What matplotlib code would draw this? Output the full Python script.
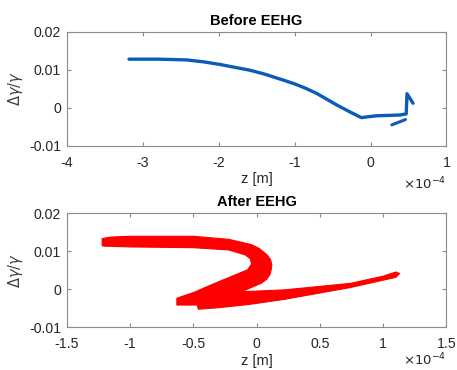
import matplotlib
matplotlib.use("Agg")
import matplotlib.pyplot as plt
from matplotlib.ticker import FixedLocator, FuncFormatter

plt.rcParams['font.family'] = ['Liberation Sans', 'DejaVu Sans']

SCALE = 1e-4  # z values below are in units of 1e-4 m

# ---- Before EEHG: blue phase-space curve (z [1e-4 m], dgamma/gamma)
before_z = [-3.18, -3.0, -2.8, -2.6, -2.42, -2.2, -1.98, -1.8, -1.59, -1.4, -1.15,
            -1.0, -0.85, -0.71, -0.58, -0.45, -0.27, -0.17, -0.12, -0.05, 0.08,
            0.39, 0.47, 0.48, 0.56]
before_dg = [0.0128, 0.0128, 0.0128, 0.0127, 0.0126, 0.0121, 0.0114, 0.0107,
             0.0099, 0.0089, 0.0073, 0.0063, 0.0051, 0.0038, 0.0023, 0.0008,
             -0.0011, -0.0021, -0.0026, -0.0024, -0.0021, -0.0019, -0.0016,
             0.0037, 0.0012]
before_tail_z = [0.46, 0.28]
before_tail_dg = [-0.0031, -0.0045]

# ---- After EEHG: outline of the red particle band
after_z = [-1.22, -1.22, -1.15, -1.00, -0.50, -0.22, -0.04, 0.02, 0.08, 0.11,
           0.12, 0.115, 0.105, 0.08, 0.04, -0.12, 0.22, 0.74, 1.00, 1.10, 1.13,
           1.10, 0.74, 0.22, -0.05, -0.30, -0.46, -0.47, -0.63, -0.63, -0.49,
           -0.36, -0.07, -0.04, -0.05, -0.09, -0.22, -0.50, -1.00, -1.20]
after_dg = [0.0114, 0.0133, 0.0137, 0.0139, 0.0139, 0.0131, 0.0117, 0.0107,
            0.0091, 0.0078, 0.0064, 0.0050, 0.0038, 0.0026, 0.0016, -0.0007,
            -0.0002, 0.0015, 0.0034, 0.0045, 0.0041, 0.0031, 0.0004, -0.0027,
            -0.0040, -0.0049, -0.0053, -0.0042, -0.0042, -0.0024, -0.0008,
            0.0011, 0.0051, 0.0066, 0.0080, 0.0090, 0.0103, 0.0109, 0.0111,
            0.0113]

top_xticks = [-4, -3, -2, -1, 0, 1]
bot_xticks = [-1.5, -1, -0.5, 0, 0.5, 1, 1.5]
yticks = [-0.01, 0, 0.01, 0.02]

fig = plt.figure(figsize=(4.57, 3.70), dpi=100)
ax1 = fig.add_axes([0.146, 0.606, 0.831, 0.308])
ax2 = fig.add_axes([0.146, 0.116, 0.831, 0.308])

blue = '#0a5cb8'
ax1.plot([z * SCALE for z in before_z], before_dg, color=blue, lw=2.4,
         solid_capstyle='round', solid_joinstyle='round')
ax1.plot([z * SCALE for z in before_tail_z], before_tail_dg, color=blue, lw=2.2,
         solid_capstyle='round')
ax2.fill([z * SCALE for z in after_z], after_dg, facecolor='#ff0000',
         edgecolor='#ff0000', lw=0.8, joinstyle='round')

for ax, xt, title, offy in [(ax1, top_xticks, 'Before EEHG', -0.265),
                            (ax2, bot_xticks, 'After EEHG', -0.215)]:
    ax.set_xlim(xt[0] * SCALE, xt[-1] * SCALE)
    ax.set_ylim(-0.01, 0.02)
    ax.xaxis.set_major_locator(FixedLocator([v * SCALE for v in xt]))
    ax.xaxis.set_major_formatter(FuncFormatter(lambda v, p: ('%g' % round(v / SCALE, 6))))
    ax.yaxis.set_major_locator(FixedLocator(yticks))
    ax.yaxis.set_major_formatter(FuncFormatter(lambda v, p: ('%g' % round(v, 6))))
    ax.tick_params(direction='in', top=True, right=True, length=3, width=0.8,
                   color='#8c8c8c', labelcolor='#262626', labelsize=10.2)
    ax.tick_params(axis='x', pad=7)
    ax.tick_params(axis='y', pad=4)
    for sp in ax.spines.values():
        sp.set_color('#8c8c8c')
        sp.set_linewidth(0.8)
    ax.set_title(title, fontsize=10.5, fontweight='bold', color='#000000', pad=5)
    ax.set_xlabel('z [m]', fontsize=10.5, color='#262626', labelpad=2)
    ax.set_ylabel(r'$\Delta\gamma/\gamma$', fontsize=10.5, color='#404040', labelpad=3)
    ax.text(1.0, offy, r'$\times10^{-4}$', transform=ax.transAxes, ha='right',
            va='top', fontsize=9.5, color='#262626')

fig.savefig('out.png', dpi=100, facecolor='white')
